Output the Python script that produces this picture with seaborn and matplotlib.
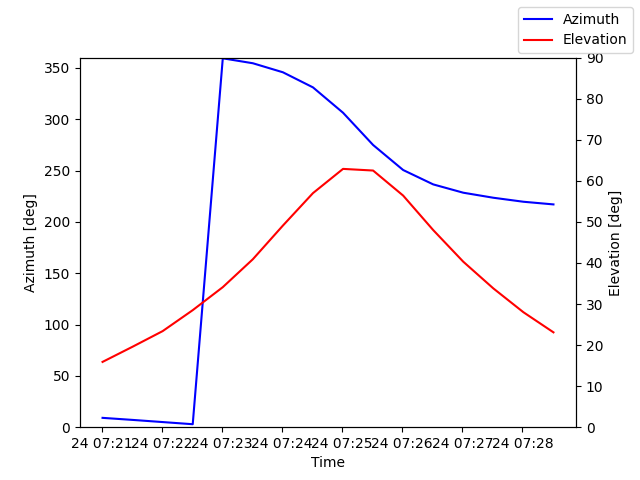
import pandas as pd
import seaborn as sns
import matplotlib
matplotlib.use("Agg")
import matplotlib.pyplot as plt

# pass samples, every 30 s
times = pd.date_range("2023-05-24 07:21:01", periods=16, freq="30s")
azimuth = [9.1, 7.1, 5.0, 2.9, 359.3, 354.5, 345.7, 331.0,
           306.3, 274.9, 250.5, 236.5, 228.4, 223.5, 219.6, 217.0]
elevation = [15.9, 19.6, 23.4, 28.5, 34.1, 40.9, 49.1, 57.0,
             62.9, 62.5, 56.4, 48.0, 40.3, 33.8, 28.0, 23.1]

df = pd.DataFrame({"time": times, "azimuth": azimuth, "elevation": elevation})

fig, ax = plt.subplots(figsize=(6.4, 4.8), dpi=100)
ax2 = ax.twinx()

sns.lineplot(data=df, x="time", y="azimuth", color="blue", label="Azimuth", ax=ax)
sns.lineplot(data=df, x="time", y="elevation", color="red", label="Elevation", ax=ax2)

for a in (ax, ax2):
    if a.get_legend() is not None:
        a.get_legend().remove()

ax.set_ylim(0, 360)
ax2.set_ylim(0, 90)
ax.set_xlabel("Time")
ax.set_ylabel("Azimuth [deg]")
ax2.set_ylabel("Elevation [deg]")

fig.legend(loc="upper right")
fig.savefig("out.png")
